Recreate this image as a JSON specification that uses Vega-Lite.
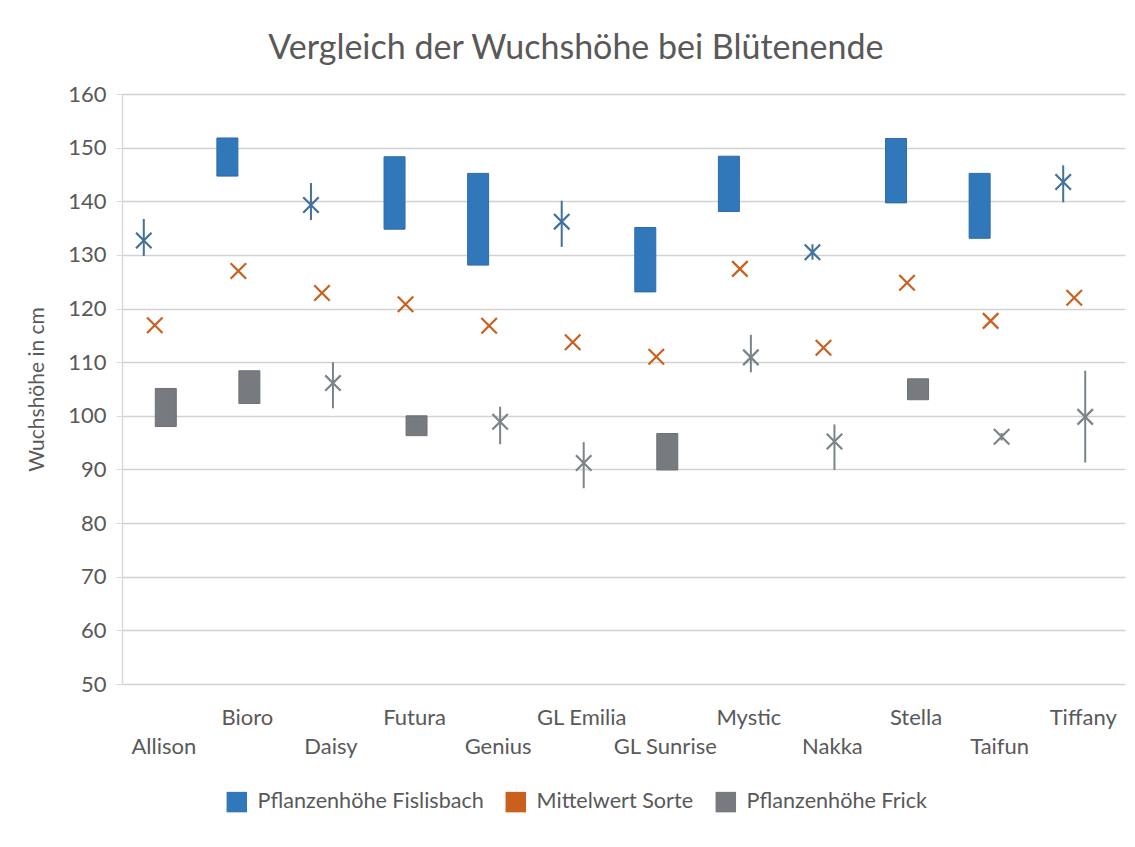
{
  "$schema": "https://vega.github.io/schema/vega-lite/v6.json",
  "autosize": {"type": "none"},
  "width": 1003,
  "height": 590,
  "padding": {"left": 122, "top": 94, "right": 10, "bottom": 163},
  "background": "white",
  "title": {"text": "Vergleich der Wuchshöhe bei Blütenende", "font": "Lato", "fontSize": 34, "fontWeight": "normal", "color": "#595959", "anchor": "middle", "frame": "bounds", "offset": 17},
  "data": {"values": [
    {"sorte": "Allison", "reihe": "Pflanzenhöhe Fislisbach", "art": "Punkt", "wert": 132.7, "min": 129.8, "max": 136.7},
    {"sorte": "Bioro", "reihe": "Pflanzenhöhe Fislisbach", "art": "Spanne", "wert": 148.2, "min": 144.7, "max": 151.8},
    {"sorte": "Daisy", "reihe": "Pflanzenhöhe Fislisbach", "art": "Punkt", "wert": 139.3, "min": 136.5, "max": 143.4},
    {"sorte": "Futura", "reihe": "Pflanzenhöhe Fislisbach", "art": "Spanne", "wert": 141.5, "min": 134.8, "max": 148.3},
    {"sorte": "Genius", "reihe": "Pflanzenhöhe Fislisbach", "art": "Spanne", "wert": 136.6, "min": 128.1, "max": 145.2},
    {"sorte": "GL Emilia", "reihe": "Pflanzenhöhe Fislisbach", "art": "Punkt", "wert": 136.2, "min": 131.5, "max": 140.1},
    {"sorte": "GL Sunrise", "reihe": "Pflanzenhöhe Fislisbach", "art": "Spanne", "wert": 129.1, "min": 123.1, "max": 135.1},
    {"sorte": "Mystic", "reihe": "Pflanzenhöhe Fislisbach", "art": "Spanne", "wert": 143.2, "min": 138.1, "max": 148.4},
    {"sorte": "Nakka", "reihe": "Pflanzenhöhe Fislisbach", "art": "Punkt", "wert": 130.5, "min": 129.1, "max": 132.0},
    {"sorte": "Stella", "reihe": "Pflanzenhöhe Fislisbach", "art": "Spanne", "wert": 145.7, "min": 139.7, "max": 151.7},
    {"sorte": "Taifun", "reihe": "Pflanzenhöhe Fislisbach", "art": "Spanne", "wert": 139.1, "min": 133.1, "max": 145.2},
    {"sorte": "Tiffany", "reihe": "Pflanzenhöhe Fislisbach", "art": "Punkt", "wert": 143.6, "min": 139.8, "max": 146.7},
    {"sorte": "Allison", "reihe": "Mittelwert Sorte", "art": "Punkt", "wert": 116.9},
    {"sorte": "Bioro", "reihe": "Mittelwert Sorte", "art": "Punkt", "wert": 127.0},
    {"sorte": "Daisy", "reihe": "Mittelwert Sorte", "art": "Punkt", "wert": 122.9},
    {"sorte": "Futura", "reihe": "Mittelwert Sorte", "art": "Punkt", "wert": 120.8},
    {"sorte": "Genius", "reihe": "Mittelwert Sorte", "art": "Punkt", "wert": 116.8},
    {"sorte": "GL Emilia", "reihe": "Mittelwert Sorte", "art": "Punkt", "wert": 113.7},
    {"sorte": "GL Sunrise", "reihe": "Mittelwert Sorte", "art": "Punkt", "wert": 111.0},
    {"sorte": "Mystic", "reihe": "Mittelwert Sorte", "art": "Punkt", "wert": 127.4},
    {"sorte": "Nakka", "reihe": "Mittelwert Sorte", "art": "Punkt", "wert": 112.7},
    {"sorte": "Stella", "reihe": "Mittelwert Sorte", "art": "Punkt", "wert": 124.8},
    {"sorte": "Taifun", "reihe": "Mittelwert Sorte", "art": "Punkt", "wert": 117.7},
    {"sorte": "Tiffany", "reihe": "Mittelwert Sorte", "art": "Punkt", "wert": 122.0},
    {"sorte": "Allison", "reihe": "Pflanzenhöhe Frick", "art": "Spanne", "wert": 101.5, "min": 98.0, "max": 105.1},
    {"sorte": "Bioro", "reihe": "Pflanzenhöhe Frick", "art": "Spanne", "wert": 105.3, "min": 102.3, "max": 108.4},
    {"sorte": "Daisy", "reihe": "Pflanzenhöhe Frick", "art": "Punkt", "wert": 106.1, "min": 101.4, "max": 110.0},
    {"sorte": "Futura", "reihe": "Pflanzenhöhe Frick", "art": "Spanne", "wert": 98.1, "min": 96.3, "max": 100.0},
    {"sorte": "Genius", "reihe": "Pflanzenhöhe Frick", "art": "Punkt", "wert": 98.9, "min": 94.7, "max": 101.7},
    {"sorte": "GL Emilia", "reihe": "Pflanzenhöhe Frick", "art": "Punkt", "wert": 91.2, "min": 86.5, "max": 95.1},
    {"sorte": "GL Sunrise", "reihe": "Pflanzenhöhe Frick", "art": "Spanne", "wert": 93.3, "min": 89.9, "max": 96.7},
    {"sorte": "Mystic", "reihe": "Pflanzenhöhe Frick", "art": "Punkt", "wert": 110.9, "min": 108.1, "max": 115.1},
    {"sorte": "Nakka", "reihe": "Pflanzenhöhe Frick", "art": "Punkt", "wert": 95.2, "min": 89.9, "max": 98.4},
    {"sorte": "Stella", "reihe": "Pflanzenhöhe Frick", "art": "Spanne", "wert": 105.0, "min": 103.0, "max": 106.9},
    {"sorte": "Taifun", "reihe": "Pflanzenhöhe Frick", "art": "Punkt", "wert": 96.1, "min": 95.4, "max": 96.8},
    {"sorte": "Tiffany", "reihe": "Pflanzenhöhe Frick", "art": "Punkt", "wert": 99.8, "min": 91.3, "max": 108.4}
  ]},
  "encoding": {
    "x": {
      "field": "sorte", "type": "nominal",
      "scale": {"domain": ["Allison", "Bioro", "Daisy", "Futura", "Genius", "GL Emilia", "GL Sunrise", "Mystic", "Nakka", "Stella", "Taifun", "Tiffany"], "paddingInner": 0, "paddingOuter": 0},
      "axis": {
        "title": null, "domain": false, "ticks": false, "labelAngle": 0, "labelPadding": 23,
        "labelBaseline": "top", "labelLineHeight": 29,
        "labelExpr": "indexof(['Allison','Daisy','Genius','GL Sunrise','Nakka','Taifun'], datum.value) >= 0 ? ['', datum.value] : datum.value"
      }
    }
  },
  "layer": [
    {
      "transform": [{"filter": "datum.reihe == 'Pflanzenhöhe Fislisbach' && datum.art == 'Spanne'"}],
      "mark": {"type": "bar", "width": 21, "xOffset": -20, "stroke": "#2f6ba8", "strokeWidth": 1},
      "encoding": {
        "y": {"field": "min", "type": "quantitative", "scale": {"domain": [50, 160], "nice": false, "zero": false},
          "axis": {"values": [50, 60, 70, 80, 90, 100, 110, 120, 130, 140, 150, 160], "title": "Wuchshöhe in cm", "titleFontSize": 21, "titlePadding": 20, "labelPadding": 10, "tickSize": 6, "tickColor": "#d9d9d9", "domainColor": "#d9d9d9", "domainWidth": 1.5, "grid": true, "gridColor": "#d2d2d2", "gridWidth": 1.5}},
        "y2": {"field": "max"},
        "color": {
          "field": "reihe", "type": "nominal",
          "scale": {"domain": ["Pflanzenhöhe Fislisbach", "Mittelwert Sorte", "Pflanzenhöhe Frick"], "range": ["#3178bb", "#c9601d", "#777b7f"]},
          "legend": {"title": null, "orient": "none", "legendX": 104, "legendY": 697, "direction": "horizontal", "symbolType": "square", "symbolSize": 420, "symbolStrokeWidth": 0, "columnPadding": 21, "labelOffset": 10, "labelLimit": 500, "labelFont": "Lato", "labelFontSize": 21.6, "labelColor": "#595959",
            "encode": {"symbols": {"update": {"fill": {"scale": "color", "field": "value"}, "fillOpacity": {"value": 1}, "strokeWidth": {"value": 0}}}}}
        }
      }
    },
    {
      "transform": [{"filter": "datum.reihe == 'Pflanzenhöhe Fislisbach' && datum.art == 'Punkt'"}],
      "mark": {"type": "rule", "xOffset": -20, "color": "#41719c", "strokeWidth": 2},
      "encoding": {"y": {"field": "min", "type": "quantitative"}, "y2": {"field": "max"}}
    },
    {
      "transform": [{"filter": "datum.reihe == 'Pflanzenhöhe Fislisbach' && datum.art == 'Punkt'"}],
      "mark": {"type": "point", "xOffset": -20, "shape": "M-1,-1L1,1M-1,1L1,-1", "size": 240, "filled": false, "color": "#41719c", "strokeWidth": 2.2, "opacity": 1},
      "encoding": {"y": {"field": "wert", "type": "quantitative"}}
    },
    {
      "transform": [{"filter": "datum.reihe == 'Mittelwert Sorte'"}],
      "mark": {"type": "point", "xOffset": -9, "shape": "M-1,-1L1,1M-1,1L1,-1", "size": 240, "filled": false, "strokeWidth": 2.2, "opacity": 1},
      "encoding": {"y": {"field": "wert", "type": "quantitative"}, "color": {"field": "reihe", "type": "nominal"}}
    },
    {
      "transform": [{"filter": "datum.reihe == 'Pflanzenhöhe Frick' && datum.art == 'Spanne'"}],
      "mark": {"type": "bar", "width": 21, "xOffset": 2, "stroke": "#6d7175", "strokeWidth": 1},
      "encoding": {"y": {"field": "min", "type": "quantitative"}, "y2": {"field": "max"}, "color": {"field": "reihe", "type": "nominal"}}
    },
    {
      "transform": [{"filter": "datum.reihe == 'Pflanzenhöhe Frick' && datum.art == 'Punkt'"}],
      "mark": {"type": "rule", "xOffset": 2, "color": "#7b8589", "strokeWidth": 2},
      "encoding": {"y": {"field": "min", "type": "quantitative"}, "y2": {"field": "max"}}
    },
    {
      "transform": [{"filter": "datum.reihe == 'Pflanzenhöhe Frick' && datum.art == 'Punkt'"}],
      "mark": {"type": "point", "xOffset": 2, "shape": "M-1,-1L1,1M-1,1L1,-1", "size": 240, "filled": false, "color": "#7b8589", "strokeWidth": 2.2, "opacity": 1},
      "encoding": {"y": {"field": "wert", "type": "quantitative"}}
    }
  ],
  "config": {
    "view": {"stroke": null},
    "axis": {"labelFont": "Lato", "labelFontSize": 22, "labelColor": "#595959", "titleFont": "Lato", "titleFontSize": 21, "titleFontWeight": "normal", "titleColor": "#595959"}
  }
}
